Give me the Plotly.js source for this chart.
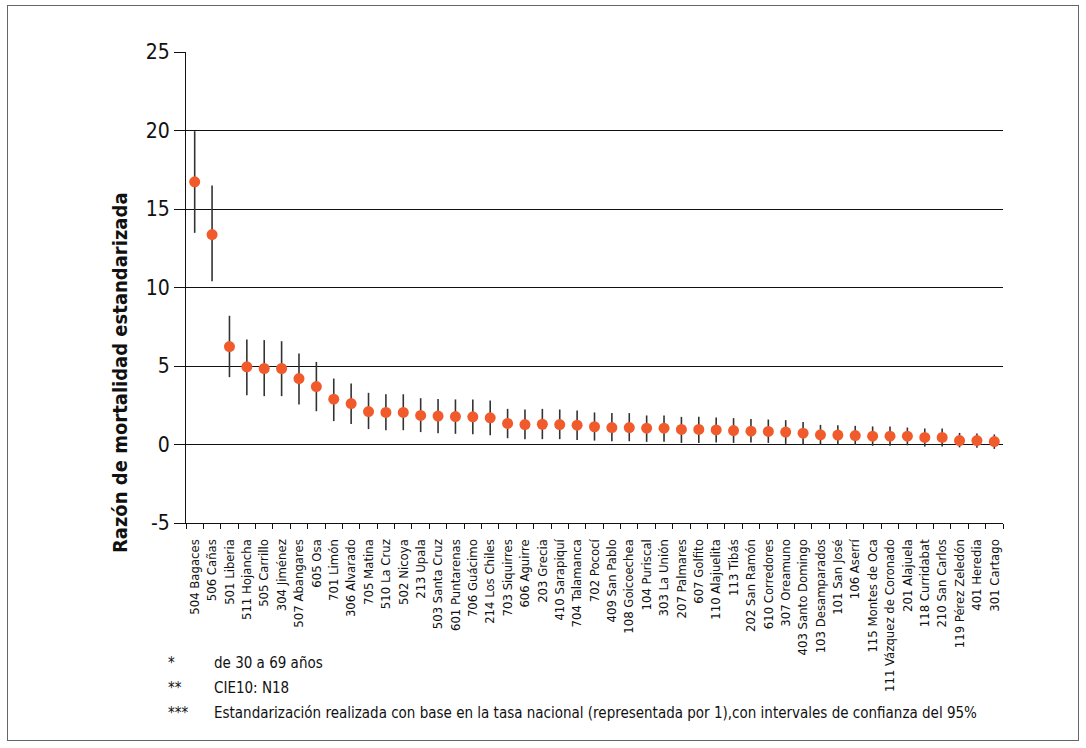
<!DOCTYPE html>
<html>
<head>
<meta charset="utf-8">
<script src="https://cdn.plot.ly/plotly-3.0.1.min.js"></script>
<style>
  html, body { margin: 0; padding: 0; background: #fff; }
  #frame { position: absolute; left: 7px; top: 5px; width: 1070px; height: 734px; border: 1px solid #666; }
  #chart { position: absolute; left: 0; top: 0; width: 1086px; height: 748px; }
</style>
</head>
<body>
<div id="frame"></div>
<div id="chart"></div>
<script>
const categories = [
  "504 Bagaces","506 Cañas","501 Liberia","511 Hojancha","505 Carrillo","304 Jiménez",
  "507 Abangares","605 Osa","701 Limón","306 Alvarado","705 Matina","510 La Cruz",
  "502 Nicoya","213 Upala","503 Santa Cruz","601 Puntarenas","706 Guácimo","214 Los Chiles",
  "703 Siquirres","606 Aguirre","203 Grecia","410 Sarapiquí","704 Talamanca","702 Pococí",
  "409 San Pablo","108 Goicoechea","104 Puriscal","303 La Unión","207 Palmares","607 Golfito",
  "110 Alajuelita","113 Tibás","202 San Ramón","610 Corredores","307 Oreamuno","403 Santo Domingo",
  "103 Desamparados","101 San José","106 Aserrí","115 Montes de Oca","111 Vázquez de Coronado",
  "201 Alajuela","118 Curridabat","210 San Carlos","119 Pérez Zeledón","401 Heredia","301 Cartago"
];
const rme = [
  16.73, 13.37, 6.24, 4.95, 4.84, 4.84, 4.20, 3.69, 2.89, 2.61, 2.10, 2.04,
  2.04, 1.85, 1.81, 1.78, 1.76, 1.70, 1.34, 1.27, 1.29, 1.27, 1.23, 1.13,
  1.08, 1.08, 1.04, 1.04, 0.96, 0.96, 0.93, 0.89, 0.85, 0.83, 0.79, 0.72,
  0.62, 0.60, 0.57, 0.53, 0.53, 0.53, 0.45, 0.45, 0.25, 0.25, 0.19
];
const upper = [
  19.96, 16.50, 8.20, 6.69, 6.65, 6.58, 5.80, 5.26, 4.20, 3.88, 3.29, 3.20,
  3.20, 2.95, 2.90, 2.87, 2.86, 2.80, 2.27, 2.23, 2.27, 2.23, 2.17, 2.04,
  2.00, 2.00, 1.85, 1.85, 1.76, 1.76, 1.72, 1.68, 1.63, 1.59, 1.55, 1.44,
  1.25, 1.23, 1.19, 1.15, 1.15, 1.08, 1.02, 1.02, 0.74, 0.70, 0.64
];
const lower = [
  13.48, 10.40, 4.29, 3.14, 3.08, 3.08, 2.55, 2.12, 1.49, 1.30, 0.98, 0.91,
  0.91, 0.79, 0.72, 0.68, 0.66, 0.59, 0.40, 0.34, 0.34, 0.34, 0.28, 0.25,
  0.21, 0.21, 0.17, 0.17, 0.10, 0.10, 0.12, 0.10, 0.12, 0.10, 0.04, 0.00,
  0.00, 0.00, -0.02, -0.08, -0.08, -0.05, -0.13, -0.13, -0.18, -0.20, -0.28
];
const yTicks = [-5, 0, 5, 10, 15, 20, 25];
const footSymbols = ["*", "**", "***"];
const footTexts = [
  "de 30 a 69 años",
  "CIE10: N18",
  "Estandarización realizada con base en la tasa nacional (representada por 1),con intervales de confianza del 95%"
];

const FONT = "'Liberation Sans Narrow', 'Arial Narrow', 'DejaVu Sans Condensed', sans-serif";

const trace = {
  type: "scatter",
  mode: "markers",
  x: categories,
  y: rme,
  marker: { color: "#f15a2b", size: 11 },
  error_y: {
    type: "data",
    symmetric: false,
    array: upper.map((u, i) => u - rme[i]),
    arrayminus: lower.map((l, i) => rme[i] - l),
    color: "#333333",
    thickness: 1.6,
    width: 0
  },
  hoverinfo: "x+y"
};

const footY = [-0.297, -0.350, -0.403];
const annotations = [];
footSymbols.forEach((s, i) => {
  annotations.push({ xref: "paper", yref: "paper", x: -0.024, y: footY[i], xanchor: "left", yanchor: "middle",
    text: s, showarrow: false, font: { family: FONT, size: 15, color: "#111" } });
  annotations.push({ xref: "paper", yref: "paper", x: 0.032, y: footY[i], xanchor: "left", yanchor: "middle",
    text: footTexts[i], showarrow: false, font: { family: FONT, size: 15, color: "#111" } });
});
annotations.push({
  xref: "paper", yref: "paper", x: -0.081, y: 0.32, xanchor: "center", yanchor: "middle",
  text: "<b>Razón de mortalidad estandarizada</b>", textangle: -90, showarrow: false,
  font: { family: FONT, size: 20, color: "#111" }
});

const layout = {
  width: 1086, height: 748,
  margin: { l: 186, r: 83, t: 52, b: 225 },
  paper_bgcolor: "rgba(0,0,0,0)",
  plot_bgcolor: "rgba(0,0,0,0)",
  showlegend: false,
  font: { family: FONT, color: "#111" },
  xaxis: {
    type: "category",
    tickangle: -90,
    tickson: "boundaries",
    ticks: "outside",
    ticklen: 5,
    tickcolor: "#111",
    showline: true,
    linecolor: "#111",
    linewidth: 1,
    showgrid: false,
    tickfont: { family: FONT, size: 13, color: "#111" },
    ticklabelstandoff: 10,
    range: [-0.5, categories.length - 0.5]
  },
  yaxis: {
    range: [-5, 25],
    tickvals: yTicks,
    ticktext: yTicks.map(String),
    ticks: "outside",
    ticklen: 11,
    tickcolor: "#111",
    showline: true,
    linecolor: "#111",
    linewidth: 1,
    showgrid: true,
    gridcolor: "#111",
    gridwidth: 1,
    zeroline: false,
    tickfont: { family: FONT, size: 21, color: "#111" }
  },
  annotations: annotations
};

Plotly.newPlot("chart", [trace], layout, { displayModeBar: false, staticPlot: true });
</script>
</body>
</html>
